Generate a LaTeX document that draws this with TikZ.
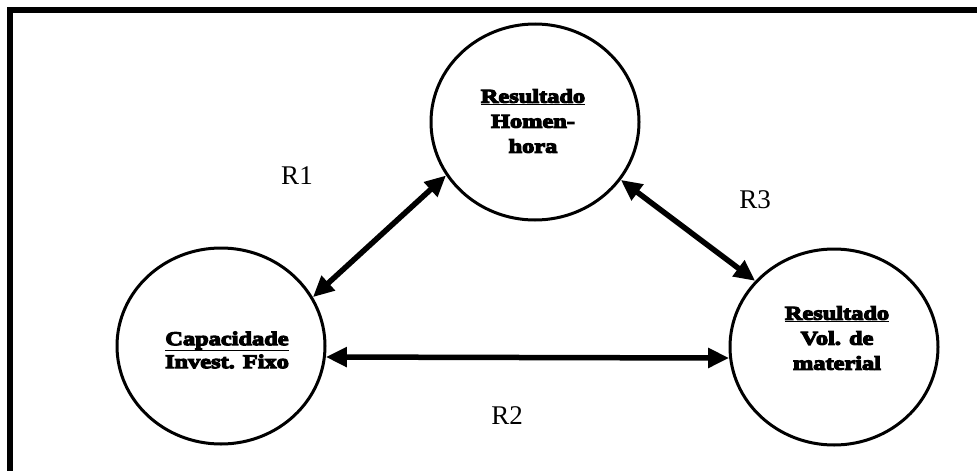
\documentclass[tikz,border=0pt]{standalone}
\usepackage{fontspec}
\setmainfont{Liberation Serif}
\newfontfamily\heavy{Liberation Serif}[FakeBold=6,FakeStretch=1.25]
\usetikzlibrary{shapes.geometric,arrows.meta}
\tikzset{
  bub/.style={draw, ellipse, line width=3pt, minimum width=208pt, minimum height=196pt, inner sep=0pt},
  txt/.style={align=center, font=\heavy\bfseries\fontsize{19.5}{25}\selectfont},
  rlab/.style={anchor=base, font=\fontsize{27}{30}\selectfont},
  link/.style={line width=5.5pt, {Triangle[length=21pt,width=19pt]}-{Triangle[length=21pt,width=19pt]}},
  frame/.style={line width=6pt}
}
\begin{document}
\begin{tikzpicture}[x=1pt,y=-1pt]
\useasboundingbox (0,0) rectangle (977,471);
\clip (0,0) rectangle (977,471);
\draw[frame] (10,490) -- (10,10) -- (995,10);
\node[bub] (top) at (535,122) {};
\node[bub] (left) at (221,346) {};
\node[bub] (right) at (834,347) {};
\node[txt] (topt) at (533,121) {\underline{Resultado}\\Homen-\\hora};
\node[txt, font=\heavy\bfseries\fontsize{19.5}{23}\selectfont] (leftt) at (227,350) {\underline{Capacidade}\\Invest. Fixo};
\node[txt] (rightt) at (837,338) {\underline{Resultado}\\Vol. de\\material};
\node[rlab] (r1) at (297,184) {R1};
\node[rlab] (r3) at (755,208) {R3};
\node[rlab] (r2) at (507,424) {R2};
\draw[link] (left.28) -- (top.211);
\draw[link] (top.-34) -- (right.140);
\draw[link] (left.-6) -- (right.186);
\end{tikzpicture}
\end{document}
